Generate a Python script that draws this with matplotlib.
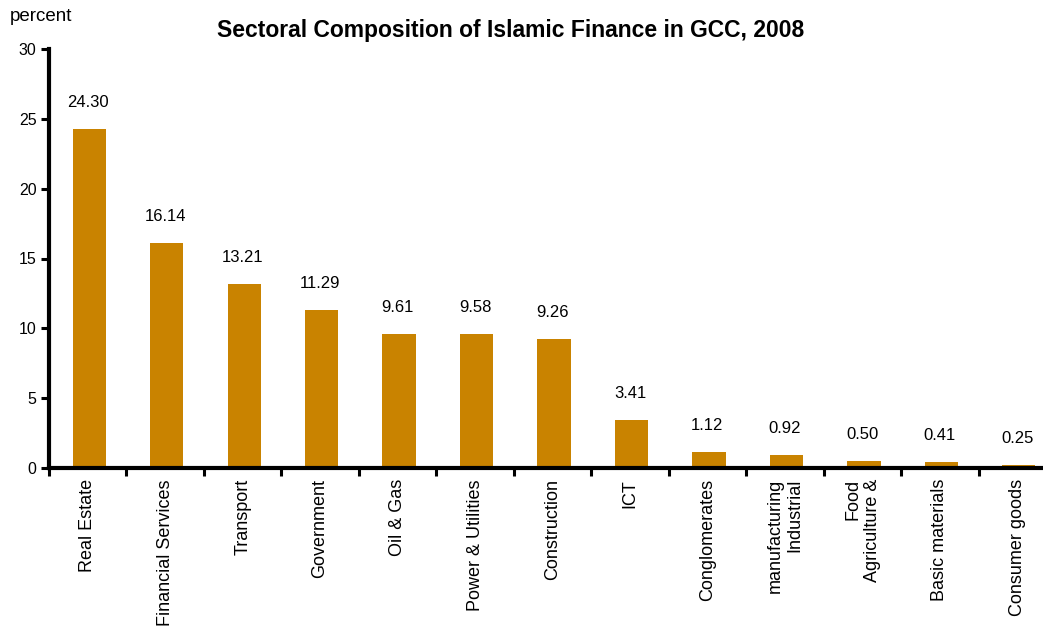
import numpy as np
import matplotlib
matplotlib.use("Agg")
import matplotlib.pyplot as plt

plt.rcParams['font.family'] = ['Liberation Sans', 'DejaVu Sans']

sectors = ["Real Estate", "Financial Services", "Transport", "Government",
           "Oil & Gas", "Power & Utilities", "Construction", "ICT",
           "Conglomerates", "manufacturing\nIndustrial", "Food\nAgriculture &",
           "Basic materials", "Consumer goods"]
shares = [24.30, 16.14, 13.21, 11.29, 9.61, 9.58, 9.26, 3.41, 1.12, 0.92, 0.50, 0.41, 0.25]
yticks = [0, 5, 10, 15, 20, 25, 30]

fig = plt.figure(figsize=(10.43, 6.28), dpi=100)
ax = fig.add_axes([49 / 1043, 160 / 628, 1007 / 1043, 419 / 628])

x = np.arange(len(sectors))
ax.bar(x + 0.02, shares, width=0.43, color='#C98300')

for xi, v in zip(x, shares):
    ax.annotate(f"{v:.2f}", (xi, v), xytext=(0, 19), textcoords='offset points',
                ha='center', va='center', fontsize=12)

ax.set_xlim(-0.5, len(sectors) - 0.5)
ax.set_ylim(0, 30)
ax.set_yticks(yticks)
ax.set_yticklabels([str(t) for t in yticks], fontsize=11.5)

# tick marks between categories, labels at the centres
ax.set_xticks(np.arange(len(sectors) + 1) - 0.5)
ax.set_xticklabels([])
ax.set_xticks(x, minor=True)
ax.set_xticklabels(sectors, minor=True, rotation=90, fontsize=13,
                   va='top', ha='center', multialignment='right')
ax.tick_params(axis='x', which='minor', length=0, pad=8)
ax.tick_params(axis='both', which='major', length=6, width=2.2, direction='out')
ax.tick_params(axis='y', pad=3)

for side in ['top', 'right']:
    ax.spines[side].set_visible(False)
for side in ['left', 'bottom']:
    ax.spines[side].set_linewidth(3)

fig.text(0.49, 0.952, "Sectoral Composition of Islamic Finance in GCC, 2008",
         ha='center', va='center', fontsize=16.5, fontweight='bold')
fig.text(0.009, 0.973, "percent", ha='left', va='center', fontsize=13.5)

fig.savefig("out.png", dpi=100)
